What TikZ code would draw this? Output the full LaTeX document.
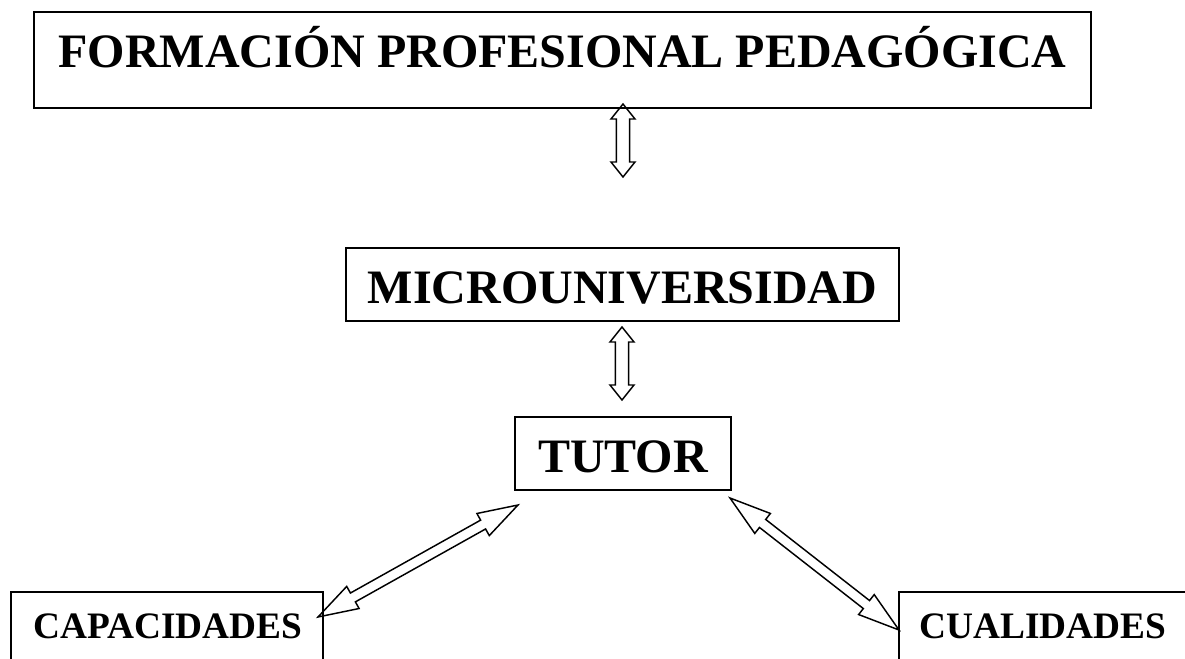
\documentclass[tikz,border=0pt]{standalone}
\usepackage{fontspec}
\setmainfont{Liberation Serif}
\usetikzlibrary{calc}

\begin{document}
\begin{tikzpicture}[x=0.75pt, y=-0.75pt,
  caja/.style={draw, line width=1.3pt, inner sep=0pt},
  titulo/.style={font=\fontsize{36}{40}\selectfont\bfseries},
  rotulo/.style={font=\fontsize{28}{32}\selectfont\bfseries, inner sep=0pt},
  flecha/.style={draw, line width=1.1pt, line join=miter}]
\useasboundingbox (0,0) rectangle (1185,659);
\clip (0,0) rectangle (1185,659);
% cajas
\node[caja, titulo, anchor=north, minimum width=792.75pt, text height=42pt, text depth=30pt] (formacion) at (562.5,11) {FORMACIÓN PROFESIONAL PEDAGÓGICA};
\node[caja, titulo, anchor=north, minimum width=414.75pt, text height=42pt, text depth=12.75pt] (micro) at (622.5,247) {MICROUNIVERSIDAD};
\node[caja, titulo, anchor=north, minimum width=162pt, text height=42pt, text depth=12.75pt] (tutor) at (623,416) {TUTOR};
\node[caja, anchor=north west, minimum width=234pt, minimum height=75pt] (capacidades) at (10,591) {};
\node[caja, anchor=north west, minimum width=240pt, minimum height=75pt] (cualidades) at (898,591) {};
\node[rotulo, anchor=base west] (capacidades-txt) at (33,638) {CAPACIDADES};
\node[rotulo, anchor=base west] (cualidades-txt) at (919,638) {CUALIDADES};
% extremos de las flechas
\coordinate (f1a) at (623,104);
\coordinate (f1b) at (623,177);
\coordinate (f2a) at (622,327);
\coordinate (f2b) at (622,400);
\coordinate (f3a) at (518,505);
\coordinate (f3b) at (318,617);
\coordinate (f4a) at (730,498);
\coordinate (f4b) at (899,630);
% flechas dobles huecas
\foreach \desde/\hasta/\largo/\ancho/\tallo in {f1a/f1b/11.25pt/9pt/4.9pt, f2a/f2b/11.25pt/9pt/4.9pt, f3a/f3b/30pt/9.5pt/3.8pt, f4a/f4b/31pt/9.5pt/3.8pt}
  \draw[flecha] (\desde) -- ($(\desde)!\largo!(\hasta)!\ancho!90:(\hasta)$) -- ($(\desde)!\largo!(\hasta)!\tallo!90:(\hasta)$)
    -- ($(\hasta)!\largo!(\desde)!\tallo!-90:(\desde)$) -- ($(\hasta)!\largo!(\desde)!\ancho!-90:(\desde)$) -- (\hasta)
    -- ($(\hasta)!\largo!(\desde)!\ancho!90:(\desde)$) -- ($(\hasta)!\largo!(\desde)!\tallo!90:(\desde)$)
    -- ($(\desde)!\largo!(\hasta)!\tallo!-90:(\hasta)$) -- ($(\desde)!\largo!(\hasta)!\ancho!-90:(\hasta)$) -- cycle;
\end{tikzpicture}
\end{document}
